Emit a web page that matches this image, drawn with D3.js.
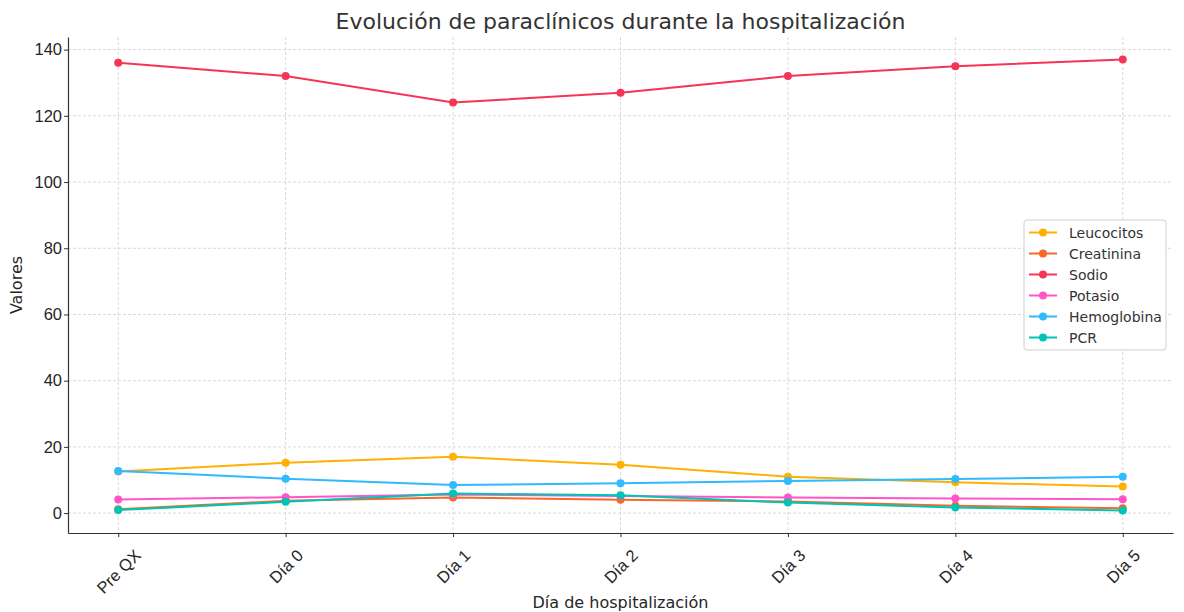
<!DOCTYPE html>
<html><head><meta charset="utf-8">
<script src="https://cdn.jsdelivr.net/npm/d3@7"></script>
<style>body{margin:0;background:#fff}svg{font-family:"DejaVu Sans",sans-serif}</style>
</head><body><svg id="c" width="1184" height="612"></svg>
<script>
const categories = ["Pre QX","Día 0","Día 1","Día 2","Día 3","Día 4","Día 5"];
const leucocitos  = [12.6, 15.2, 17.0, 14.6, 11.0, 9.3, 8.0];
const creatinina  = [1.2, 3.7, 4.7, 4.0, 3.5, 2.2, 1.5];
const sodio       = [136, 132, 124, 127, 132, 135, 137];
const potasio     = [4.1, 4.8, 5.6, 5.2, 4.7, 4.4, 4.2];
const hemoglobina = [12.7, 10.4, 8.5, 9.0, 9.7, 10.3, 11.0];
const pcr         = [0.9, 3.4, 5.9, 5.4, 3.2, 1.7, 0.8];
const yTicks = [0,20,40,60,80,100,120,140];
const seriesNames = ["Leucocitos","Creatinina","Sodio","Potasio","Hemoglobina","PCR"];
const seriesColors = ["#FFB000","#F5692A","#F53555","#FF55C8","#30BAFF","#00C4B4"];
const seriesValues = [leucocitos, creatinina, sodio, potasio, hemoglobina, pcr];

const svg = d3.select("#c");
const L=68, R=1173, T=37, B=533;
const x = d3.scaleLinear().domain([-0.3, categories.length-1+0.3]).range([L,R]);
const allV = seriesValues.flat();
const mn = d3.min(allV), mx = d3.max(allV), pad=(mx-mn)*0.05;
const y = d3.scaleLinear().domain([mn-pad, mx+pad]).range([B,T]);
const txt="#262626";

// grid
const g = svg.append("g");
g.selectAll(".gx").data(categories).join("line")
  .attr("x1",(d,i)=>x(i)).attr("x2",(d,i)=>x(i)).attr("y1",T).attr("y2",B)
  .attr("stroke","#cfcfcf").attr("stroke-width",0.8).attr("stroke-dasharray","3,2");
g.selectAll(".gy").data(yTicks).join("line")
  .attr("x1",L).attr("x2",R).attr("y1",d=>y(d)).attr("y2",d=>y(d))
  .attr("stroke","#cfcfcf").attr("stroke-width",0.8).attr("stroke-dasharray","3,2");

// axes
const xa = svg.append("g").attr("transform",`translate(0,${B})`)
  .call(d3.axisBottom(x).tickValues(d3.range(categories.length)).tickFormat(i=>categories[i]).tickSize(4).tickSizeOuter(0));
xa.select(".domain").attr("stroke","#333").attr("stroke-width",1.2);
xa.selectAll(".tick line").attr("stroke","#333");
const fs = 16.5;
xa.selectAll("text").attr("font-size",fs).attr("fill",txt)
  .attr("text-anchor","middle").attr("y",0).attr("dy","0.35em")
  .each(function(){
    const w = this.getComputedTextLength();
    const side = (w + fs*1.1)*Math.SQRT1_2;
    d3.select(this).attr("transform",`translate(0,${13 + side/2}) rotate(-45)`);
  });
const ya = svg.append("g").attr("transform",`translate(${L},0)`)
  .call(d3.axisLeft(y).tickValues(yTicks).tickSize(4).tickSizeOuter(0));
ya.select(".domain").attr("stroke","#333").attr("stroke-width",1.2);
ya.selectAll(".tick line").attr("stroke","#333");
ya.selectAll("text").attr("font-size",fs).attr("fill",txt).attr("x",-6);

// lines
const line = d3.line().x((d,i)=>x(i)).y(d=>y(d));
seriesValues.forEach((vals,k)=>{
  svg.append("path").datum(vals).attr("d",line).attr("fill","none")
    .attr("stroke",seriesColors[k]).attr("stroke-width",2);
  svg.append("g").selectAll("circle").data(vals).join("circle")
    .attr("cx",(d,i)=>x(i)).attr("cy",d=>y(d)).attr("r",4).attr("fill",seriesColors[k]);
});

// title & labels
svg.append("text").attr("x",(L+R)/2).attr("y",29).attr("text-anchor","middle")
  .attr("font-size",22).attr("fill","#333").text("Evolución de paraclínicos durante la hospitalización");
svg.append("text").attr("x",(L+R)/2).attr("y",608).attr("text-anchor","middle")
  .attr("font-size",16).attr("fill",txt).text("Día de hospitalización");
svg.append("text").attr("transform",`translate(22,${(T+B)/2}) rotate(-90)`).attr("text-anchor","middle")
  .attr("font-size",16).attr("fill",txt).text("Valores");

// legend
const lg = svg.append("g").attr("transform","translate(1024,220)");
lg.append("rect").attr("width",142).attr("height",130).attr("rx",3)
  .attr("fill","#fff").attr("fill-opacity",0.85).attr("stroke","#d0d0d0");
seriesNames.forEach((n,k)=>{
  const yy = 12.5 + k*21;
  lg.append("line").attr("x1",5).attr("x2",33).attr("y1",yy).attr("y2",yy)
    .attr("stroke",seriesColors[k]).attr("stroke-width",2);
  lg.append("circle").attr("cx",19).attr("cy",yy).attr("r",4).attr("fill",seriesColors[k]);
  lg.append("text").attr("x",45).attr("y",yy+5).attr("font-size",14).attr("fill","#333").text(n);
});
</script></body></html>
